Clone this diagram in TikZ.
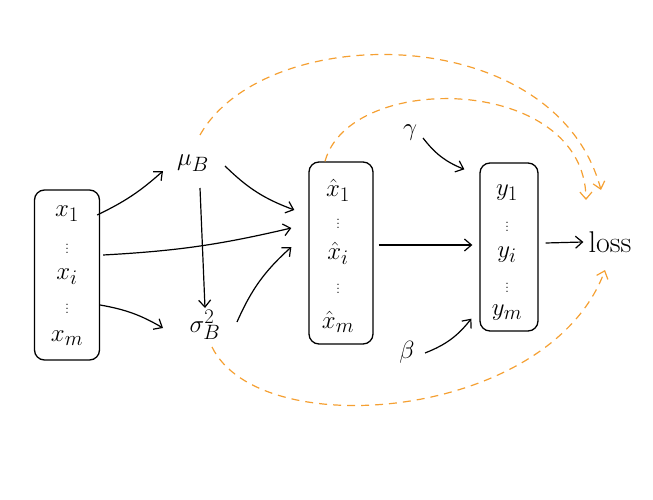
\documentclass[tikz,border=0pt]{standalone}
\usetikzlibrary{arrows.meta}
\definecolor{dashorange}{RGB}{245,160,50}
\begin{document}
\begin{tikzpicture}[x=1pt,y=-1pt,
  every node/.style={font=\fontsize{30}{34}\selectfont, inner sep=0pt},
  dotsn/.style={font=\fontsize{16}{18}\selectfont},
  batch/.style={draw, line width=1.3pt, rounded corners=10pt},
  arr/.style={line width=1.2pt, -{Straight Barb[length=7pt,width=12pt]}},
  grad/.style={draw=dashorange, line width=1.2pt, dash pattern=on 8pt off 6pt, -{Straight Barb[length=7pt,width=12pt]}}]
\useasboundingbox (0,0) rectangle (653,500);
% batch boxes
\node[batch, minimum width=65pt, minimum height=170pt] (b1) at (67,275) {};
\node[batch, minimum width=64pt, minimum height=182pt] (b2) at (341,253) {};
\node[batch, minimum width=58pt, minimum height=168pt] (b3) at (509,247) {};
% box 1 contents
\node (x1) at (67,214) {$x_1$};
\node[dotsn] (x1d) at (67,246) {$\vdots$};
\node (xi) at (67,277) {$x_i$};
\node[dotsn] (xid) at (67,306) {$\vdots$};
\node (xm) at (67,338) {$x_m$};
% box 2 contents
\node (h1) at (338,190) {$\hat{x}_1$};
\node[dotsn] (h1d) at (338,221) {$\vdots$};
\node (hi) at (338,253) {$\hat{x}_i$};
\node[dotsn] (hid) at (338,286) {$\vdots$};
\node (hm) at (338,322) {$\hat{x}_m$};
% box 3 contents
\node (y1) at (507,193) {$y_1$};
\node[dotsn] (y1d) at (507,224) {$\vdots$};
\node (yi) at (507,255) {$y_i$};
\node[dotsn] (yid) at (507,285) {$\vdots$};
\node (ym) at (507,313) {$y_m$};
% other nodes
\node (mu) at (193,163) {$\mu_B$};
\node (sig) at (205,325) {$\sigma_B^2$};
\node (gam) at (410,133) {$\gamma$};
\node (bet) at (407,352) {$\beta$};
\node (loss) at (610,242) {loss};
% forward arrows
\draw[arr] ([shift={(-3,-60)}]b1.east) to[bend right=8] ([shift={(-30,8)}]mu.center);
\draw[arr] ([shift={(3,-20)}]b1.east) to[bend right=5] ([shift={(-17,-25)}]b2.west);
\draw[arr] ([shift={(0,30)}]b1.east) to[bend left=10] ([shift={(-42,3)}]sig.center);
\draw[arr] ([shift={(32,3)}]mu.center) to[bend right=12] ([shift={(-14,-43)}]b2.west);
\draw[arr] ([shift={(7,25)}]mu.center) -- ([shift={(0,-17)}]sig.center);
\draw[arr] ([shift={(32,-3)}]sig.center) to[bend left=12] ([shift={(-17,-6)}]b2.west);
\draw[arr] ([shift={(5,-8)}]b2.east) -- ([shift={(-7,-2)}]b3.west);
\draw[arr] ([shift={(13,5)}]gam.center) to[bend right=15] ([shift={(-15,7)}]b3.north west);
\draw[arr] ([shift={(18,1)}]bet.center) to[bend right=15] ([shift={(-8,-13)}]b3.south west);
\draw[arr] ([shift={(7,-4)}]b3.east) -- ([xshift=-5pt]loss.west);
% gradient (backward) dashed arrows
\draw[grad] ([shift={(7,-28)}]mu.center) .. controls (265,20) and (555,20) .. ([shift={(-9,-52)}]loss.center);
\draw[grad] ([xshift=-16pt]b2.north) .. controls (350,70) and (585,75) .. ([shift={(-24,-42)}]loss.center);
\draw[grad] ([shift={(7,22)}]sig.center) .. controls (260,445) and (550,420) .. ([shift={(-5,28)}]loss.center);
\end{tikzpicture}
\end{document}
